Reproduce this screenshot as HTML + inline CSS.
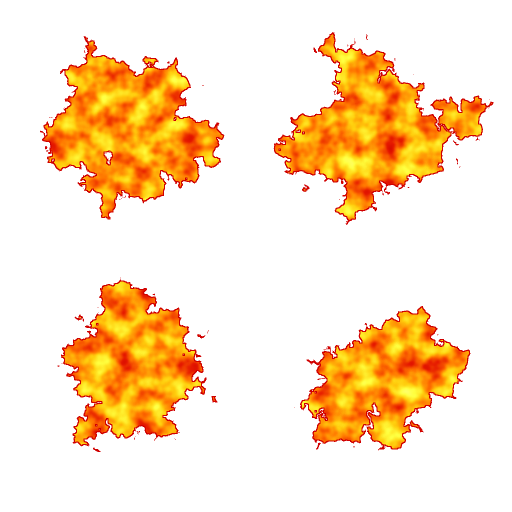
<!DOCTYPE html>
<html><head><meta charset="utf-8"><style>
html,body{margin:0;padding:0;background:#fff;width:512px;height:512px;overflow:hidden}
</style></head><body>
<svg width="512" height="512" viewBox="0 0 512 512">
<defs>
<filter id="fire" x="-20%" y="-20%" width="140%" height="140%" color-interpolation-filters="sRGB">
 <feTurbulence type="fractalNoise" baseFrequency="0.035" numOctaves="4" seed="3" result="n"/>
 <feDisplacementMap in="SourceGraphic" in2="n" scale="55" xChannelSelector="R" yChannelSelector="G" result="d0"/>
 <feTurbulence type="fractalNoise" baseFrequency="0.12" numOctaves="2" seed="5" result="n2"/>
 <feDisplacementMap in="d0" in2="n2" scale="14" xChannelSelector="R" yChannelSelector="G" result="d"/>
 <feComponentTransfer in="d" result="shape"><feFuncA type="discrete" tableValues="0 0 1 1"/></feComponentTransfer>
 <feMorphology in="shape" operator="erode" radius="1" result="inner"/>
 <feTurbulence type="fractalNoise" baseFrequency="0.045" numOctaves="3" seed="11" result="c"/>
 <feColorMatrix in="c" type="matrix" values="1 0 0 0 0 1 0 0 0 0 1 0 0 0 0 0 0 0 0 1" result="g"/>
 <feComponentTransfer in="g" result="col">
  <feFuncR type="table" tableValues="0.8 0.9 1 1 1 1"/>
  <feFuncG type="table" tableValues="0 0.1 0.45 0.8 1 1"/>
  <feFuncB type="table" tableValues="0 0 0 0.05 0.25 0.5"/>
  <feFuncA type="table" tableValues="1 1"/>
 </feComponentTransfer>
 <feComposite in="col" in2="inner" operator="in" result="fill"/>
 <feFlood flood-color="#d00000" result="red"/>
 <feComposite in="red" in2="shape" operator="in" result="rim"/>
 <feMerge><feMergeNode in="rim"/><feMergeNode in="fill"/></feMerge>
</filter>
</defs>
<g filter="url(#fire)" fill="#fff">
 <g>
  <circle cx="125" cy="120" r="58"/><circle cx="95" cy="80" r="25"/><circle cx="170" cy="95" r="25"/>
  <circle cx="75" cy="140" r="30"/><circle cx="180" cy="150" r="30"/><circle cx="110" cy="185" r="22"/>
  <circle cx="140" cy="175" r="25"/><circle cx="55" cy="150" r="14"/>
 </g>
 <g>
  <circle cx="365" cy="140" r="55"/><circle cx="355" cy="70" r="28"/><circle cx="415" cy="150" r="35"/>
  <circle cx="310" cy="150" r="30"/><circle cx="465" cy="120" r="22"/><circle cx="360" cy="185" r="22"/>
  <circle cx="400" cy="100" r="25"/><circle cx="330" cy="45" r="14"/>
 </g>
 <g>
  <circle cx="135" cy="360" r="55"/><circle cx="120" cy="310" r="30"/><circle cx="170" cy="330" r="25"/>
  <circle cx="95" cy="360" r="30"/><circle cx="175" cy="380" r="28"/><circle cx="120" cy="410" r="28"/>
  <circle cx="160" cy="420" r="22"/><circle cx="85" cy="430" r="14"/>
 </g>
 <g>
  <circle cx="390" cy="370" r="50"/><circle cx="410" cy="335" r="25"/><circle cx="440" cy="370" r="30"/>
  <circle cx="345" cy="390" r="30"/><circle cx="340" cy="425" r="22"/><circle cx="390" cy="420" r="25"/>
  <circle cx="365" cy="345" r="20"/><circle cx="310" cy="405" r="12"/>
 </g>
</g>
</svg>
</body></html>
